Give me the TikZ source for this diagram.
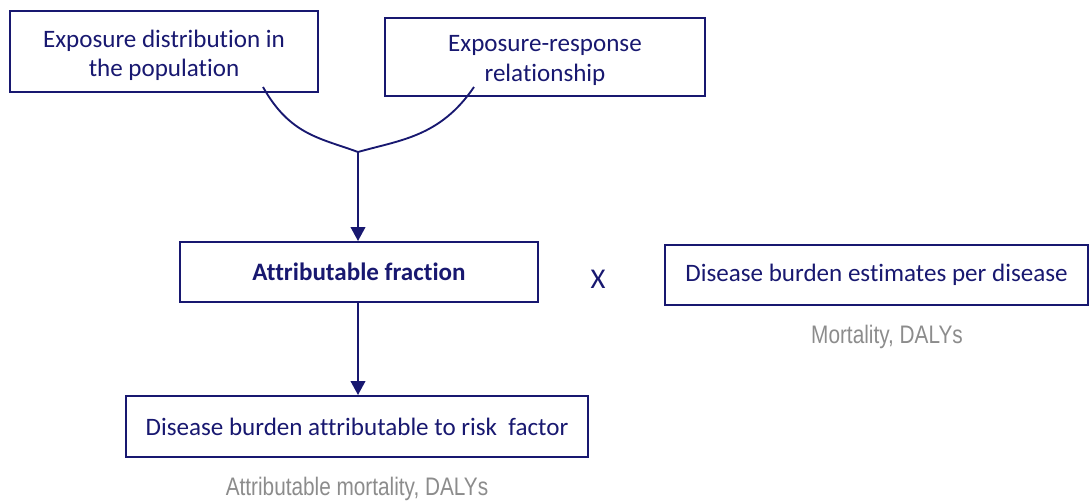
\documentclass[tikz,border=0pt]{standalone}
\usepackage{fontspec}
\setmainfont[Ligatures=NoCommon]{Carlito}
\newfontfamily\narrowsans[FakeStretch=0.82]{Liberation Sans}
\usetikzlibrary{arrows.meta}
\definecolor{navy}{RGB}{24,24,112}
\definecolor{labgray}{RGB}{140,140,140}
\tikzset{
  boxfont/.style={text=navy, align=center, font=\fontsize{18.8}{22}\selectfont},
  box/.style={draw=navy, line width=1.5pt, boxfont, inner sep=0pt},
  conn/.style={draw=navy, line width=1.4pt},
  arr/.style={conn, -{Triangle[width=11pt,length=10.5pt]}},
  note/.style={text=labgray, font=\narrowsans\fontsize{19}{21}\selectfont},
}
\begin{document}
\begin{tikzpicture}[x=0.75pt,y=-0.75pt]
\useasboundingbox (0,0) rectangle (1091,501);
\node[box, minimum width=308*0.75pt, minimum height=81*0.75pt,
  label={[boxfont, yshift=-3pt]center:{Exposure distribution in\\the population}}] (a) at (164,51.5) {};
\node[box, minimum width=320*0.75pt, minimum height=78*0.75pt,
  label={[boxfont, yshift=-2.5pt]center:{Exposure-response\\relationship}}] (b) at (545,57) {};
\node[box, minimum width=358*0.75pt, minimum height=60*0.75pt, font=\bfseries\fontsize{18.8}{22}\selectfont] (af) at (359,272) {Attributable fraction};
\node[box, minimum width=423*0.75pt, minimum height=60*0.75pt] (db) at (876.5,275) {Disease burden estimates per disease};
\node[box, minimum width=462*0.75pt, minimum height=61*0.75pt] (res) at (357,426.5) {Disease burden attributable to risk\ \ factor};
\node[text=navy, font=\fontsize{21.5}{24}\selectfont] (x) at (598,279) {X};
\node[note] (n1) at (887,337) {Mortality, DALYs};
\node[note] (n2) at (357,489) {Attributable mortality, DALYs};
\coordinate (la) at (263,87);
\coordinate (ra) at (474,87);
\coordinate (j) at (358,152);
\draw[conn] (la) .. controls (290,135) and (320,138) .. (j);
\draw[conn] (ra) .. controls (440,137) and (400,140) .. (j);
\draw[arr] (j) -- (af.north -| j);
\draw[arr] (af.south -| j) -- (res.north -| j);
\end{tikzpicture}
\end{document}
